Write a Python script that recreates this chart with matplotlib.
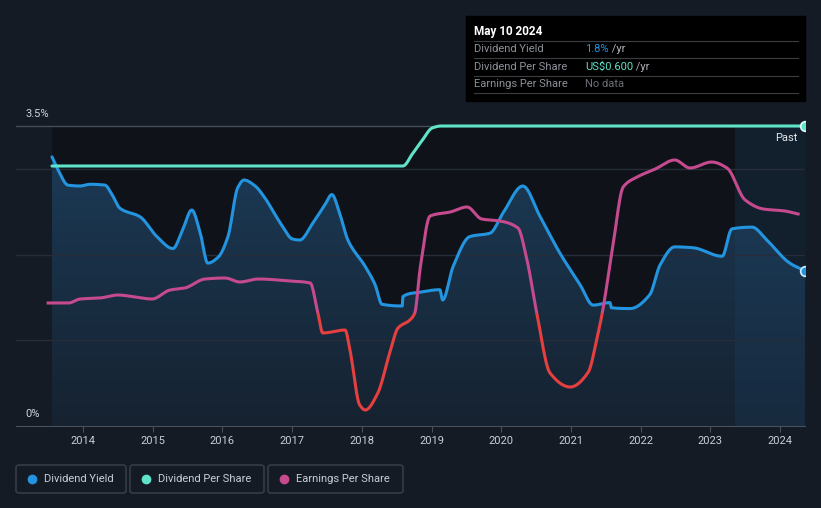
import matplotlib
matplotlib.use("Agg")
import matplotlib.pyplot as plt
from matplotlib.patches import Rectangle, FancyBboxPatch
from matplotlib.colors import LinearSegmentedColormap
import numpy as np

plt.rcParams['font.family'] = ['Roboto', 'DejaVu Sans']

# dividend yield, % (decimal years)
yield_t = [2013.555, 2013.641, 2013.785, 2013.957, 2014.10, 2014.316, 2014.416, 2014.53, 2014.82,
           2015.06, 2015.29, 2015.43, 2015.56, 2015.68, 2015.79, 2015.94, 2016.08, 2016.22, 2016.31,
           2016.47, 2016.61, 2016.83, 2017.01, 2017.11, 2017.30, 2017.47, 2017.57, 2017.69, 2017.80,
           2018.05, 2018.19, 2018.29, 2018.58, 2018.59, 2018.83, 2019.12, 2019.16, 2019.31, 2019.55,
           2019.84, 2020.03, 2020.31, 2020.56, 2020.84, 2021.13, 2021.32, 2021.56, 2021.58, 2021.85,
           2022.13, 2022.28, 2022.49, 2022.75, 2023.17, 2023.31, 2023.60, 2023.81, 2024.14, 2024.36]
yield_v = [3.14, 2.99, 2.81, 2.80, 2.82, 2.81, 2.70, 2.54, 2.44,
           2.21, 2.07, 2.29, 2.52, 2.26, 1.90, 1.97, 2.21, 2.78, 2.87,
           2.80, 2.66, 2.37, 2.18, 2.17, 2.37, 2.58, 2.70, 2.46, 2.17,
           1.86, 1.65, 1.42, 1.40, 1.51, 1.56, 1.59, 1.47, 1.86, 2.21,
           2.25, 2.49, 2.80, 2.44, 2.02, 1.65, 1.41, 1.44, 1.38, 1.37,
           1.53, 1.88, 2.09, 2.08, 1.98, 2.30, 2.32, 2.17, 1.90, 1.81]

# dividend per share, US$
dps_t = [2013.555, 2018.59, 2018.73, 2018.87, 2019.01, 2019.14, 2024.36]
dps_v = [0.52, 0.52, 0.545, 0.572, 0.596, 0.60, 0.60]

# earnings per share, US$
eps_t = [2013.50, 2013.79, 2013.96, 2014.24, 2014.50, 2014.75, 2014.99, 2015.25, 2015.46, 2015.75,
         2016.04, 2016.25, 2016.51, 2016.97, 2017.26, 2017.37, 2017.44, 2017.76, 2017.83, 2017.97,
         2018.05, 2018.23, 2018.40, 2018.52, 2018.69, 2018.76, 2018.84, 2018.98, 2019.27, 2019.51,
         2019.72, 2019.98, 2020.24, 2020.37, 2020.51, 2020.70, 2020.99, 2021.25, 2021.37, 2021.45,
         2021.60, 2021.75, 2021.95, 2022.21, 2022.49, 2022.71, 2023.02, 2023.24, 2023.50, 2023.76,
         2024.07, 2024.26]
eps_v = [0.10, 0.10, 0.14, 0.15, 0.18, 0.16, 0.14, 0.23, 0.25, 0.34,
         0.35, 0.31, 0.34, 0.32, 0.30, 0.00, -0.20, -0.17, -0.37, -0.92,
         -0.97, -0.80, -0.40, -0.15, -0.07, 0.00, 0.46, 0.97, 1.01, 1.06,
         0.94, 0.92, 0.85, 0.53, 0.00, -0.60, -0.74, -0.59, -0.27, 0.00,
         0.66, 1.26, 1.36, 1.44, 1.53, 1.45, 1.51, 1.45, 1.13, 1.04,
         1.02, 0.99]

years = list(range(2014, 2025))
past_start = 2023.35

BG = '#151b25'
DARK = '#0f1319'
BLUE = '#2394df'
TEAL = '#5fe3c9'
PINK = '#c64a8e'
RED = '#e5403f'
FS = 8


def smooth(t, v, n=12):
    # monotone cubic (Fritsch-Carlson) just for drawing the curve through the points
    t = np.asarray(t, float)
    v = np.asarray(v, float)
    h = np.diff(t)
    d = np.diff(v) / h
    m = np.zeros_like(v)
    m[0], m[-1] = d[0], d[-1]
    for i in range(1, len(v) - 1):
        if d[i - 1] * d[i] > 0:
            w1 = 2 * h[i] + h[i - 1]
            w2 = h[i] + 2 * h[i - 1]
            m[i] = (w1 + w2) / (w1 / d[i - 1] + w2 / d[i])
    xs, ys = [], []
    for i in range(len(h)):
        s = np.linspace(0, 1, n, endpoint=False)
        h00 = 2 * s**3 - 3 * s**2 + 1
        h10 = s**3 - 2 * s**2 + s
        h01 = -2 * s**3 + 3 * s**2
        h11 = s**3 - s**2
        xs.append(t[i] + s * h[i])
        ys.append(h00 * v[i] + h10 * h[i] * m[i] + h01 * v[i + 1] + h11 * h[i] * m[i + 1])
    xs.append([t[-1]])
    ys.append([v[-1]])
    return np.concatenate(xs), np.concatenate(ys)


W, H = 821, 508
fig = plt.figure(figsize=(W / 100, H / 100), dpi=100, facecolor=BG)


def fx(px):
    return px / W


def fy(py):
    return 1 - py / H


L, R, T, B = 16, 805, 110, 426
ax = fig.add_axes([fx(L), fy(B), fx(R) - fx(L), fy(T) - fy(B)])
ax.set_facecolor(BG)
x0 = 2014 + (L - 83) / 69.7
x1 = 2014 + (R - 83) / 69.7
ax.set_xlim(x0, x1)
ymax = 3.5 * (B - T) / 300
ax.set_ylim(0, ymax)

ax.fill_between([yield_t[0], x1], 0, 3.5, color=DARK, zorder=0, lw=0)

ys_t, ys_v = smooth(yield_t, yield_v)
ds_t, ds_v = smooth(dps_t, dps_v)
es_t, es_v = smooth(eps_t, eps_v)

# gradient fill under yield
fill = ax.fill_between(ys_t, ys_v, 0, color='none', lw=0, zorder=1)
grad = np.linspace(1, 0, 256).reshape(-1, 1)
cmap = LinearSegmentedColormap.from_list('f', ['#162230', '#1b3a56'])
im = ax.imshow(grad, extent=[x0, x1, 0, 3.2], aspect='auto', cmap=cmap, zorder=1,
               origin='upper', vmin=0, vmax=1)
im.set_clip_path(fill.get_paths()[0], transform=ax.transData)

# past region
ax.fill_between([past_start, x1], 0, 3.5, color='#1d4469', alpha=0.25, zorder=1.5, lw=0)

for g in [1, 2, 3]:
    ax.axhline(g, color='#262d38', lw=1, zorder=1.6)
ax.axhline(3.5, color='#474d57', lw=1, zorder=1.6)

ax.plot(ys_t, ys_v, color=BLUE, lw=2.2, zorder=4, solid_joinstyle='round',
        solid_capstyle='round')
ax.plot([yield_t[-1]], [yield_v[-1]], 'o', ms=7, mfc=BLUE, mec='#d8eefc', mew=1.2,
        zorder=6)

# dps axis
axd = ax.twinx()
axd.set_ylim(0, 0.6 * (B - T) / 300)
axd.axis('off')
axd.plot(ds_t, ds_v, color=TEAL, lw=2.2, zorder=5, solid_capstyle='round')
axd.plot([dps_t[-1]], [dps_v[-1]], 'o', ms=7, mfc=TEAL, mec='#e0fff8', mew=1.2, zorder=6)

# eps axis, zero at y=313 px
axe = ax.twinx()
axe.set_ylim((313 - B) / 100, (313 - T) / 100)
axe.axis('off')
pos_line, = axe.plot(es_t, es_v, color=PINK, lw=2.2, zorder=3, solid_joinstyle='round')
neg_line, = axe.plot(es_t, es_v, color=RED, lw=2.2, zorder=3, solid_joinstyle='round')
pos_line.set_clip_path(Rectangle((x0, 0), x1 - x0, 10, transform=axe.transData))
neg_line.set_clip_path(Rectangle((x0, -10), x1 - x0, 10, transform=axe.transData))

for a in (ax, axd, axe):
    for s in a.spines.values():
        s.set_visible(False)
ax.spines['bottom'].set_visible(True)
ax.spines['bottom'].set_color('#4a505a')
ax.set_yticks([])
ax.set_xticks(years)
ax.set_xticklabels([str(y) for y in years], color='#c9ced6', fontsize=FS)
ax.tick_params(axis='x', length=4, color='#4a505a', pad=3)

fig.text(fx(25), fy(114), '3.5%', color='#d0d4da', fontsize=FS, va='center')
fig.text(fx(25), fy(414), '0%', color='#d0d4da', fontsize=FS, va='center')
fig.text(fx(797), fy(138), 'Past', color='#e6e8ec', fontsize=FS, va='center', ha='right')

# tooltip
fig.patches.append(Rectangle((fx(466), fy(101)), fx(805) - fx(466), fy(16) - fy(101),
                             transform=fig.transFigure, color='#000000', zorder=10))
fig.text(fx(474), fy(32), 'May 10 2024', color='white', fontsize=8.5, weight='bold',
         va='center', zorder=11)
for ly in [41, 58, 76, 93]:
    fig.add_artist(plt.Line2D([fx(474), fx(798)], [fy(ly), fy(ly)], color='#3a3d42', lw=0.8,
                              zorder=11))
rows = [('Dividend Yield', '1.8%', BLUE, ' /yr'),
        ('Dividend Per Share', 'US$0.600', TEAL, ' /yr'),
        ('Earnings Per Share', 'No data', '#6c7078', '')]
for i, (lab, val, col, suf) in enumerate(rows):
    yy = fy(49 + i * 17.5)
    fig.text(fx(474), yy, lab, color='#8d9198', fontsize=FS, va='center', zorder=11)
    t = fig.text(fx(585), yy, val, color=col, fontsize=FS, va='center', zorder=11)
    if suf:
        fig.canvas.draw()
        bb = t.get_window_extent()
        fig.text(bb.x1 / W, yy, suf, color='#b0b4ba', fontsize=FS, va='center', zorder=11)

# legend
leg = [(16, 126, BLUE, 'Dividend Yield'),
       (130, 264, TEAL, 'Dividend Per Share'),
       (268, 403, PINK, 'Earnings Per Share')]
for xa, xb, col, lab in leg:
    fig.patches.append(FancyBboxPatch((fx(xa), fy(493)), fx(xb) - fx(xa), fy(465) - fy(493),
                                      boxstyle='round,pad=0,rounding_size=0.004',
                                      transform=fig.transFigure, fc='none', ec='#3b424d',
                                      lw=1))
    fig.add_artist(plt.Line2D([fx(xa + 16)], [fy(479)], marker='o', ms=6, color=col, lw=0))
    fig.text(fx(xa + 28), fy(479), lab, color='#c9ced6', fontsize=FS, va='center')

fig.savefig('out.png', dpi=100, facecolor=BG)
